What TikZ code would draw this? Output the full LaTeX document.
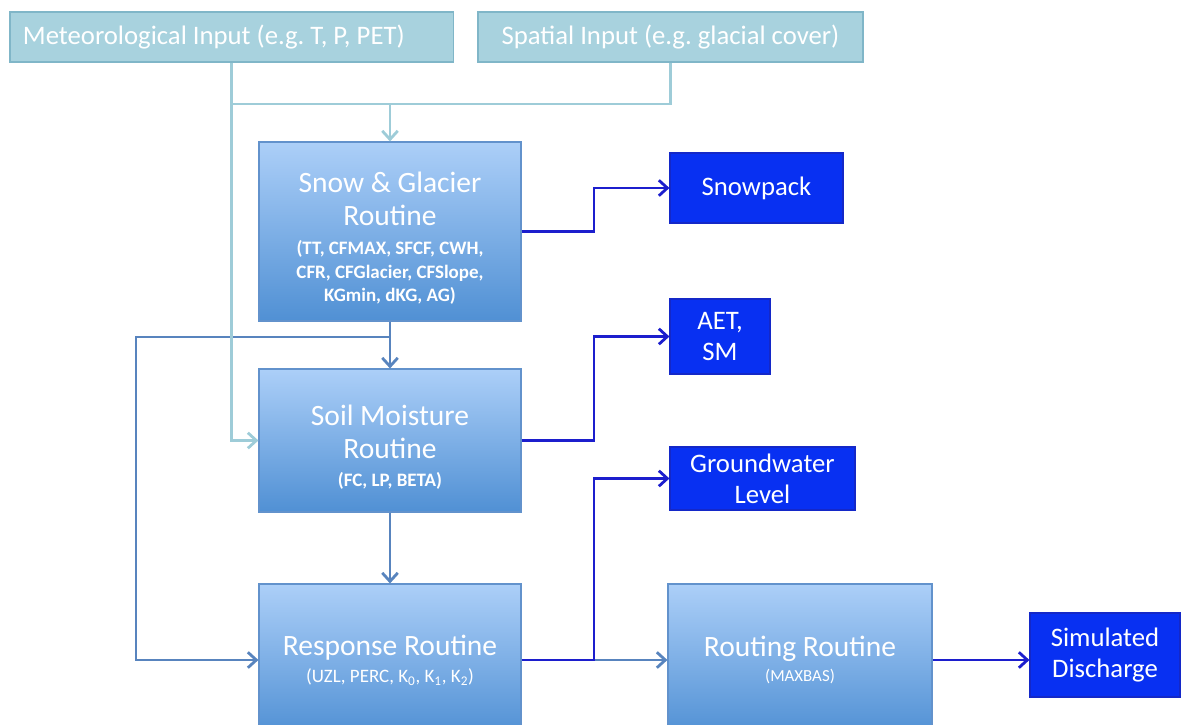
\documentclass[tikz,border=0pt]{standalone}
\usepackage{fontspec}
\setmainfont{Carlito}
\usetikzlibrary{arrows.meta}
\frenchspacing

\definecolor{inputfill}{RGB}{168,210,222}
\definecolor{inputline}{RGB}{128,182,200}
\definecolor{inputarrow}{RGB}{158,204,216}
\definecolor{routtop}{RGB}{172,207,248}
\definecolor{routbot}{RGB}{80,144,212}
\definecolor{routline}{RGB}{98,146,204}
\definecolor{flowcol}{RGB}{88,132,190}
\definecolor{resfill}{RGB}{8,48,242}
\definecolor{resline}{RGB}{20,40,200}
\definecolor{rescol}{RGB}{28,30,205}

\tikzset{
  inbox/.style={draw=inputline, fill=inputfill, line width=0.8pt, text=white, inner sep=0pt, minimum height=1.25cm, font=\fontsize{19}{22}\selectfont},
  routine/.style={draw=routline, top color=routtop, bottom color=routbot, line width=0.8pt, text=white, align=center, inner sep=0pt, minimum width=6.55cm, font=\fontsize{21}{24}\selectfont},
  result/.style={draw=resline, fill=resfill, line width=0.8pt, text=white, align=center, inner sep=0pt, font=\fontsize{19}{22}\selectfont},
  inflow/.style={draw=inputarrow, line width=2pt},
  flow/.style={draw=flowcol, line width=2pt},
  resflow/.style={draw=rescol, line width=2pt},
  >={Straight Barb[length=6pt,width=11pt]}
}
\newcommand{\prm}[1]{{\fontsize{13.5}{16}\selectfont #1}}
\newcommand{\lift}{\rule{0pt}{24pt}}

\begin{document}
\begin{tikzpicture}[x=0.025cm, y=-0.025cm]
\useasboundingbox (0,0) rectangle (1183,724);

\node[inbox, minimum width=11.075cm] (met) at (231.5,37) {\makebox[10.425cm][l]{Meteorological Input (e.g. T, P, PET)}};
\node[inbox, minimum width=9.625cm] (spat) at (670.5,37) {Spatial Input (e.g. glacial cover)};

\node[routine, minimum height=4.475cm] (snow) at (390,231.5) {\lift Snow \& Glacier\\Routine\\[-3.5pt]\prm{\bfseries (TT, CFMAX, SFCF, CWH,}\\[-7.3pt]\prm{\bfseries CFR, CFGlacier, CFSlope,}\\[-7.3pt]\prm{\bfseries KGmin, dKG, AG)}};
\node[routine, minimum height=3.575cm] (soil) at (390,440.5) {\lift Soil Moisture\\Routine\\[-4pt]\prm{\bfseries (FC, LP, BETA)}};
\node[routine, minimum height=3.8cm] (resp) at (390,660) {Response Routine\\[-5pt]\prm{(UZL, PERC, K\textsubscript{0}, K\textsubscript{1}, K\textsubscript{2})}};
\node[routine, minimum width=6.6cm, minimum height=3.8cm] (rout) at (800,660) {Routing Routine\\[-6pt]{\fontsize{12}{14}\selectfont (MAXBAS)}};

\node[result, minimum width=4.325cm, minimum height=1.75cm] (spk) at (756.5,188) {Snowpack};
\node[result, minimum width=2.5cm, minimum height=1.875cm] (aet) at (720,336.5) {AET,\\SM};
\node[result, minimum width=4.625cm, minimum height=1.575cm] (gw) at (762.5,478.5) {Groundwater\\Level};
\node[result, minimum width=3.75cm, minimum height=2.1cm] (sim) at (1105,655) {Simulated\\Discharge};

\coordinate (jn) at (390,104);
\coordinate (fb) at (390,337);
\coordinate (fbl) at (136,337);
\coordinate (bus) at (594,0);

\draw[flow, ->] (snow) -- (soil);
\draw[flow, ->] (fb) -- (fbl) |- (resp.west);
\draw[flow, ->] (soil) -- (resp);
\draw[flow, ->] (resp) -- (rout);

\draw[inflow] (met.south) |- (jn) -| (spat.south);
\draw[inflow, ->] (jn) -- (snow.north);
\draw[inflow, ->] (met.south) |- (soil.west);

\draw[resflow, ->] (snow.east) -- (snow.east -| bus) |- (spk.west);
\draw[resflow, ->] (soil.east) -- (soil.east -| bus) |- (aet.west);
\draw[resflow, ->] (resp.east) -- (resp.east -| bus) |- (gw.west);
\draw[resflow, ->] (rout.east) -- (rout.east -| sim.west);
\end{tikzpicture}
\end{document}
